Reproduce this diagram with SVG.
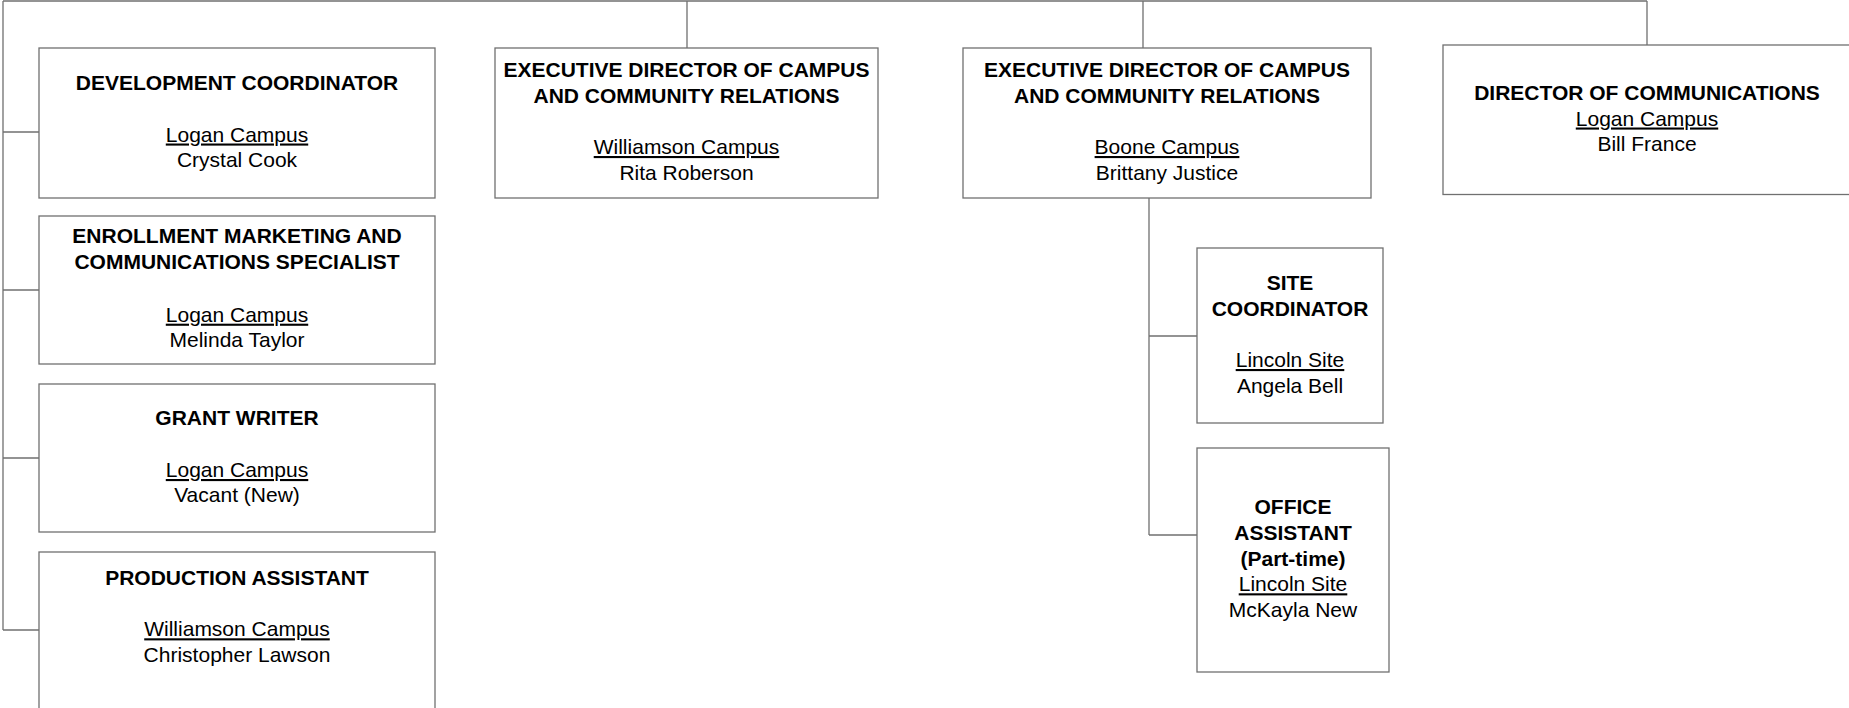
<svg xmlns="http://www.w3.org/2000/svg" width="1849" height="708" viewBox="0 0 1849 708">
<style>
.box{fill:#fff;stroke:#707070;stroke-width:1.3}
.con{fill:none;stroke:#707070;stroke-width:1.3}
text{font-family:"Liberation Sans",Arial,sans-serif;font-size:21px;fill:#000;text-anchor:middle}
.t{font-weight:bold}
.u{text-decoration:underline}
</style>
<rect width="1849" height="708" fill="#fff"/>
<g id="connectors">
<path class="con" d="M3,1 H1647 M3,1 V630 M3,132 H39 M3,290 H39 M3,458 H39 M3,630 H39 M687,1 V48 M1143,1 V48 M1647,1 V45 M1149,198 V535 M1149,336 H1197 M1149,535 H1197"/>
</g>
<g id="dev-coordinator">
<rect class="box" x="39" y="48" width="396" height="150"/>
<text class="t" x="237" y="90">DEVELOPMENT COORDINATOR</text>
<text class="u" x="237" y="141.5">Logan Campus</text>
<text x="237" y="166.8">Crystal Cook</text>
</g>
<g id="enrollment-marketing">
<rect class="box" x="39" y="216" width="396" height="148"/>
<text class="t" x="237" y="243.3">ENROLLMENT MARKETING AND</text>
<text class="t" x="237" y="269">COMMUNICATIONS SPECIALIST</text>
<text class="u" x="237" y="321.7">Logan Campus</text>
<text x="237" y="347.3">Melinda Taylor</text>
</g>
<g id="grant-writer">
<rect class="box" x="39" y="384" width="396" height="148"/>
<text class="t" x="237" y="425">GRANT WRITER</text>
<text class="u" x="237" y="477">Logan Campus</text>
<text x="237" y="502.3">Vacant (New)</text>
</g>
<g id="production-assistant">
<rect class="box" x="39" y="552" width="396" height="170"/>
<text class="t" x="237" y="585">PRODUCTION ASSISTANT</text>
<text class="u" x="237" y="636.3">Williamson Campus</text>
<text x="237" y="661.7">Christopher Lawson</text>
</g>
<g id="exec-director-williamson">
<rect class="box" x="495" y="48" width="383" height="150"/>
<text class="t" x="686.5" y="77.3">EXECUTIVE DIRECTOR OF CAMPUS</text>
<text class="t" x="686.5" y="103">AND COMMUNITY RELATIONS</text>
<text class="u" x="686.5" y="154">Williamson Campus</text>
<text x="686.5" y="180">Rita Roberson</text>
</g>
<g id="exec-director-boone">
<rect class="box" x="963" y="48" width="408" height="150"/>
<text class="t" x="1167" y="77.3">EXECUTIVE DIRECTOR OF CAMPUS</text>
<text class="t" x="1167" y="103">AND COMMUNITY RELATIONS</text>
<text class="u" x="1167" y="154">Boone Campus</text>
<text x="1167" y="180">Brittany Justice</text>
</g>
<g id="director-communications">
<rect class="box" x="1443" y="45" width="420" height="149.5"/>
<text class="t" x="1647" y="99.7">DIRECTOR OF COMMUNICATIONS</text>
<text class="u" x="1647" y="125.5">Logan Campus</text>
<text x="1647" y="150.7">Bill France</text>
</g>
<g id="site-coordinator">
<rect class="box" x="1197" y="248" width="186" height="175"/>
<text class="t" x="1290" y="290">SITE</text>
<text class="t" x="1290" y="315.7">COORDINATOR</text>
<text class="u" x="1290" y="367">Lincoln Site</text>
<text x="1290" y="392.5">Angela Bell</text>
</g>
<g id="office-assistant">
<rect class="box" x="1197" y="448" width="192" height="224"/>
<text class="t" x="1293" y="514">OFFICE</text>
<text class="t" x="1293" y="540">ASSISTANT</text>
<text class="t" x="1293" y="565.7">(Part-time)</text>
<text class="u" x="1293" y="591.3">Lincoln Site</text>
<text x="1293" y="616.7">McKayla New</text>
</g>
</svg>
